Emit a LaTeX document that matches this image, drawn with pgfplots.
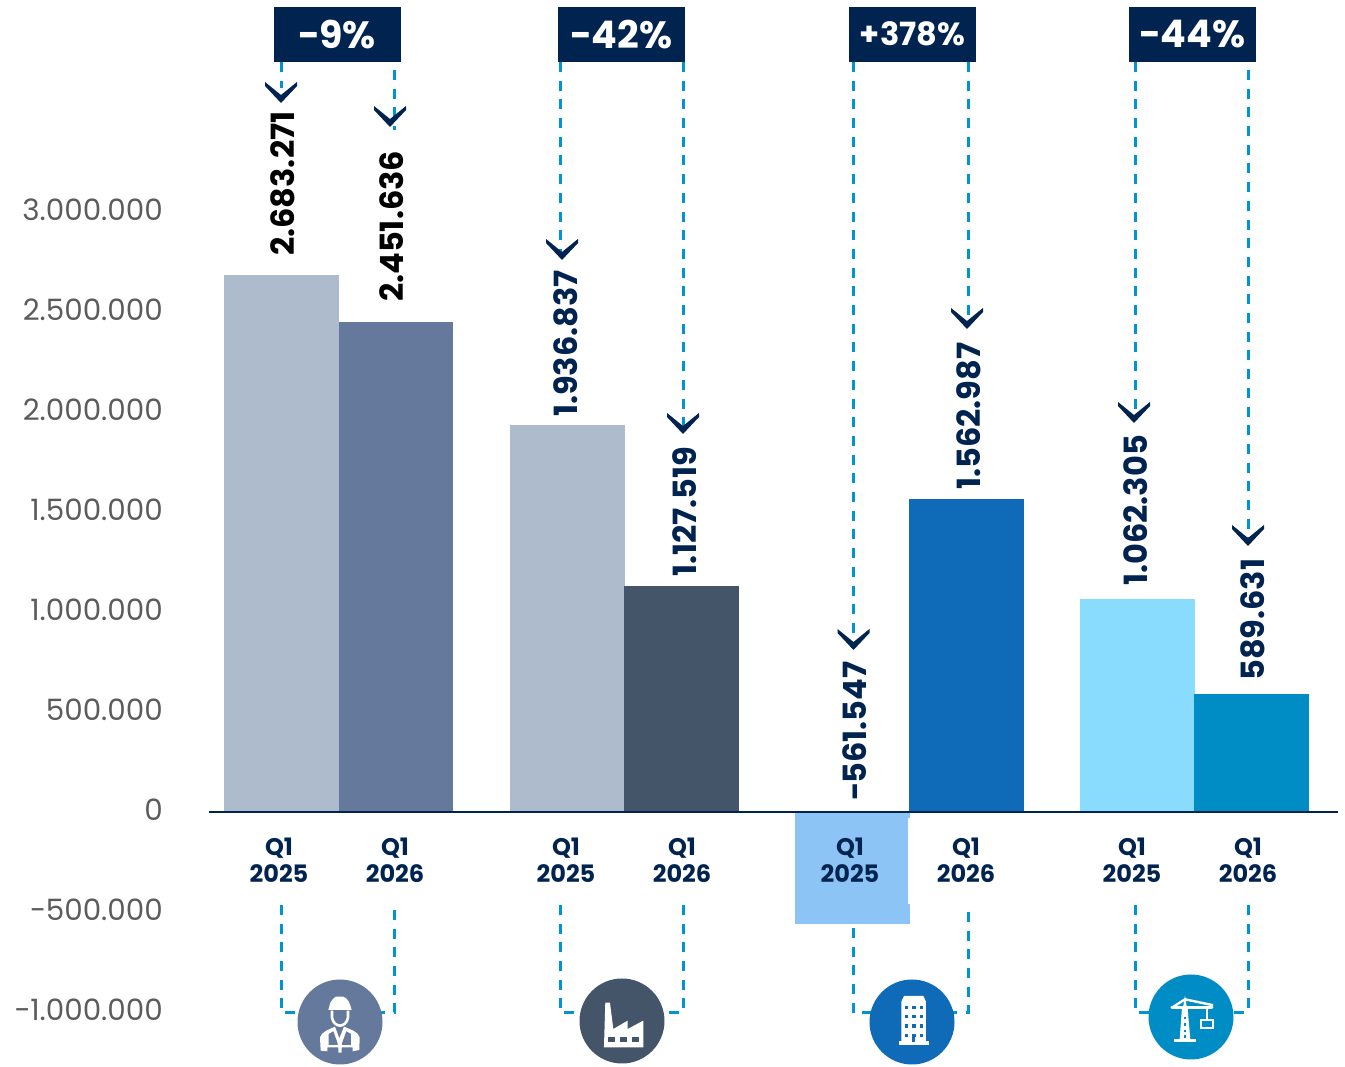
\documentclass[border=0pt]{standalone}
\usepackage{fontspec}
\setmainfont{Poppins}
\usepackage{pgfplots}
\pgfplotsset{compat=1.18}
\definecolor{navy}{HTML}{00234F}
\definecolor{dashc}{HTML}{0095D0}
\definecolor{tickc}{HTML}{5C5C5C}
\definecolor{barA}{HTML}{AEBBCD}
\definecolor{barB}{HTML}{64799B}
\definecolor{barD}{HTML}{445469}
\definecolor{barE}{HTML}{8CC4F6}
\definecolor{barF}{HTML}{0F6BB8}
\definecolor{barG}{HTML}{8ADCFF}
\definecolor{barH}{HTML}{008DC6}
\tikzset{
  bar/.style={ybar, bar width=115pt, bar shift=0pt, draw=none, fill=#1},
  link/.style={draw=dashc, line width=3pt, dash pattern=on 10pt off 8.7pt},
  val/.style={rotate=90, anchor=west, font=\fontsize{32}{36}\selectfont\bfseries, inner sep=0pt, #1},
  pct/.style={fill=navy, text=white, minimum width=127pt, minimum height=55pt, inner sep=0pt, font=\fontsize{#1}{#1}\selectfont\bfseries},
}
\newcommand{\chevron}[2]{\fill[navy] (#1-16,#2-17) -- (#1,#2) -- (#1+16,#2-17) -- (#1+16,#2-21) -- (#1,#2-8) -- (#1-16,#2-21) -- cycle;}
\begin{document}
\begin{tikzpicture}
\begin{axis}[
  at={(0,0)}, anchor=south west,
  scale only axis, width=1345pt, height=1067pt,
  xmin=0, xmax=1345, ymin=-1275000, ymax=4060000,
  axis on top,
  axis line style={draw=none}, tick style={draw=none},
  major tick length=0pt,
  scaled y ticks=false,
  ytick={-1000000,-500000,0,500000,1000000,1500000,2000000,2500000,3000000},
  yticklabels={−1.000.000,−500.000,0,500.000,1.000.000,1.500.000,2.000.000,2.500.000,3.000.000},
  yticklabel style={anchor=east, xshift=163pt, yshift=2pt, text=tickc, font=\fontsize{29.4}{32}\selectfont, inner sep=0pt},
  xtick={279,395,566,682,850,966,1132,1248},
  xticklabels={{Q1\\2025},{Q1\\2026},{Q1\\2025},{Q1\\2026},{Q1\\2025},{Q1\\2026},{Q1\\2025},{Q1\\2026}},
  xticklabel style={anchor=north, align=center, yshift=229pt, text=navy, font=\fontsize{24}{27}\selectfont\bfseries, inner sep=0pt},
]
\addplot[bar=barA] coordinates {(281.5,2683271)};
\addplot[bar=barB, bar width=114pt] coordinates {(396,2451636)};
\addplot[bar=barA] coordinates {(567.5,1936837)};
\addplot[bar=barD] coordinates {(681.5,1127519)};
\addplot[bar=barE] coordinates {(852.5,-561547)};
\addplot[bar=barF] coordinates {(966.5,1562987)};
\addplot[bar=barG] coordinates {(1137.5,1062305)};
\addplot[bar=barH] coordinates {(1251.5,589631)};
\draw[navy, line width=2.6pt] (axis cs:209,0) -- (axis cs:1338,0);
\end{axis}
\begin{scope}[x=1pt, y=-1pt, yshift=1067pt]
  % white notch on the negative bar
  \fill[white] (908,818) rectangle (911,904);
  % dashed links, top
  \foreach \x/\a/\b in {281/62/88, 394/70/130, 560/62/256, 683/62/432, 853.5/62/646, 968/62/326, 1135/62/420, 1248/70/542}
    \draw[link] (\x,\a) -- (\x,\b);
  % dashed links, bottom
  \foreach \l/\r/\a/\bb in {281/394/905/910, 560/683/905/905, 853.5/968/928/912, 1135/1248/905/905} {
    \draw[link] (\l,\a) -- (\l,1013) -- (\l+60,1013);
    \draw[link] (\r,\bb) -- (\r,1013) -- (\r-60,1013);
  }
  \chevron{281}{103}
  \chevron{390}{127}
  \chevron{562}{260}
  \chevron{683}{434}
  \chevron{853.5}{650}
  \chevron{967}{329}
  \chevron{1134}{423}
  \chevron{1248}{546}
  % percentage boxes
  \node[pct=38] at (337.5,34.5) {\raisebox{1pt}{−9\%}};
  \node[pct=38] at (621.5,34.5) {\raisebox{1pt}{−42\%}};
  \node[pct=32] at (912.5,34.5) {\raisebox{1pt}{+378\%}};
  \node[pct=38] at (1192.5,34.5) {\raisebox{1pt}{−44\%}};
  % value labels
  \node[val={text=black}] at (283,256) {2.683.271};
  \node[val={text=black}] at (392,302) {2.451.636};
  \node[val={text=navy}] at (566,417) {1.936.837};
  \node[val={text=navy}] at (685,577) {1.127.519};
  \node[val={text=navy}] at (855,801) {−561.547};
  \node[val={text=navy}] at (969,490) {1.562.987};
  \node[val={text=navy}] at (1136,586) {1.062.305};
  \node[val={text=navy}] at (1253,681) {589.631};
  % icon discs
  \fill[barB] (340,1022) circle (42.5);
  \fill[barD] (622,1021) circle (42.5);
  \fill[barF] (912,1022) circle (42.5);
  \fill[barH] (1191,1017) circle (42.5);
  % worker and factory, in the frame of the crop at (270,960) x3
  \begin{scope}[shift={(270,960)}, x=0.3333pt, y=-0.3333pt]
    \fill[white] (175,150) -- (181,128) .. controls (188,115) and (198,110) .. (198,110) -- (220,110) .. controls (235,116) and (240,130) .. (245,150) -- cycle;
    \draw[white, line width=2.6pt] (186,152) -- (186,172) .. controls (188,188) and (200,197) .. (210,197) .. controls (220,197) and (232,188) .. (234,172) -- (234,152);
    \fill[white] (152,272) -- (150,232) .. controls (155,215) and (178,208) .. (195,200) -- (208,235) -- (222,200) .. controls (240,208) and (265,215) .. (269,232) -- (268,270) -- (248,274) -- (248,262) -- (215,262) -- (215,278) -- (205,278) -- (205,262) -- (172,262) -- (172,274) -- cycle;
    \fill[barB] (176,255) -- (176,222) -- (190,214) -- (203,250) -- (203,255) -- cycle;
    \fill[barB] (243,255) -- (243,222) -- (229,214) -- (216,250) -- (216,255) -- cycle;
    \fill[white] (1002,262) -- (1006,128) -- (1020,128) -- (1030,207) -- (1073,182) -- (1073,207) -- (1120,182) -- (1120,262) -- cycle;
    \fill[barD] (1015,230) rectangle (1035,247);
    \fill[barD] (1050,230) rectangle (1072,247);
    \fill[barD] (1086,230) rectangle (1106,247);
  \end{scope}
  % building and crane, in the frame of the crop at (840,960) x3
  \begin{scope}[shift={(840,960)}, x=0.3333pt, y=-0.3333pt]
    \fill[white] (184,245) -- (184,125) -- (192,108) -- (250,108) -- (258,125) -- (258,245) -- cycle;
    \fill[white] (178,243) rectangle (266,255);
    \foreach \wy in {138,165,193,222} \foreach \wx in {195,217,239}
      \fill[barF] (\wx,\wy) rectangle (\wx+10,\wy+10);
    \fill[barF] (217,222) rectangle (226,245);
    \fill[white] (1003,238) rectangle (1068,247);
    \fill[white] (1026,145) -- (1043,145) -- (1051,238) -- (1019,238) -- cycle;
    \foreach \ly in {170,190,210,226}
      \fill[barH] (1031,\ly) rectangle (1039,\ly+7);
    \draw[white, line width=3pt, line cap=round] (996,143) -- (1116,143);
    \draw[white, line width=2.4pt] (996,143) -- (1035,118) -- (1116,135) -- (1116,143);
    \fill[white] (1029,145) -- (1035,106) -- (1041,145) -- cycle;
    \draw[white, line width=1.4pt] (1101,145) -- (1101,180);
    \draw[white, line width=2.2pt] (1083,180) rectangle (1118,204);
  \end{scope}
\end{scope}
\pgfresetboundingbox
\path (0,0) rectangle (1345pt,1067pt);
\end{tikzpicture}
\end{document}
